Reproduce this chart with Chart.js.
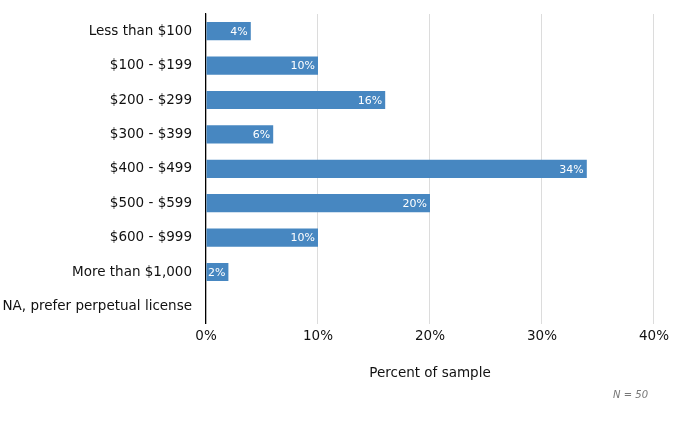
<!DOCTYPE html>
<html>
<head>
<meta charset="utf-8">
<script src="https://cdn.jsdelivr.net/npm/chart.js@4"></script>
<style>
  html, body { margin: 0; padding: 0; background: #fff; }
  #wrap { width: 674px; height: 421px; }
</style>
</head>
<body>
<div id="wrap"><canvas id="priceChart"></canvas></div>
<script>
// Data
const categories = ['Less than $100', '$100 - $199', '$200 - $299', '$300 - $399', '$400 - $499',
  '$500 - $599', '$600 - $999', 'More than $1,000', 'NA, prefer perpetual license'];
const percents = [4, 10, 16, 6, 34, 20, 10, 2, 0];
const xTicks = [0, 10, 20, 30, 40];
const sampleNote = 'N = 50';

Chart.defaults.font.family = '"DejaVu Sans", Verdana, sans-serif';
Chart.defaults.color = '#222';

// value labels at the end of each bar, and the sample size note
const barLabels = {
  id: 'barLabels',
  afterDatasetsDraw(chart) {
    const ctx = chart.ctx;
    const meta = chart.getDatasetMeta(0);
    ctx.save();
    ctx.font = '11px "DejaVu Sans", Verdana, sans-serif';
    ctx.fillStyle = '#fff';
    ctx.textAlign = 'right';
    ctx.textBaseline = 'middle';
    meta.data.forEach((bar, i) => {
      if (!percents[i]) return;
      ctx.fillText(percents[i] + '%', bar.x - 3, bar.y + 1);
    });
    ctx.font = 'italic 10px "DejaVu Sans", Verdana, sans-serif';
    ctx.fillStyle = '#777';
    ctx.fillText(sampleNote, 648, 395);
    ctx.restore();
  }
};

const ctx = document.getElementById('priceChart').getContext('2d');
new Chart(ctx, {
  type: 'bar',
  data: {
    labels: categories,
    datasets: [{
      label: 'Percent of sample',
      data: percents,
      backgroundColor: '#4787c1',
      categoryPercentage: 1,
      barPercentage: 0.53
    }]
  },
  options: {
    indexAxis: 'y',
    responsive: true,
    maintainAspectRatio: false,
    animation: false,
    layout: { padding: { top: 14, right: 18, bottom: 39, left: 0 } },
    plugins: {
      legend: { display: false },
      tooltip: { enabled: false }
    },
    scales: {
      x: {
        min: 0,
        max: 40,
        afterBuildTicks: (scale) => { scale.ticks = xTicks.map(v => ({ value: v })); },
        ticks: {
          padding: 5,
          font: { size: 13.5 },
          color: '#111',
          callback: (v) => v + '%'
        },
        grid: { color: '#dcdcdc', drawTicks: false },
        border: { display: false },
        title: {
          display: true,
          text: 'Percent of sample',
          font: { size: 13.5 },
          color: '#111',
          padding: { top: 16, bottom: 0 }
        }
      },
      y: {
        ticks: { padding: 14, font: { size: 13.5 }, color: '#111' },
        grid: { display: false, drawTicks: false },
        border: { display: true, color: '#000', width: 1.2 },
        afterFit: (scale) => {
          scale.width = 206;
          scale.paddingTop = 0;
          scale.paddingBottom = 0;
        }
      }
    }
  },
  plugins: [barLabels]
});
</script>
</body>
</html>
